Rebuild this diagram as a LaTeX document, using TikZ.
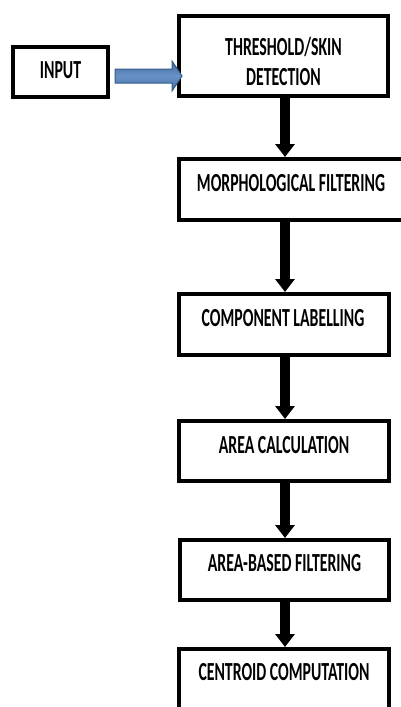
\documentclass[tikz,border=0pt]{standalone}
\usepackage{fontspec}
\setmainfont{Carlito}
\usetikzlibrary{arrows.meta}
\newcommand\vtxt[1]{\scalebox{1}[1.65]{#1}}
\begin{document}
\begin{tikzpicture}[x=1pt,y=-1pt,
  box/.style={draw=black, line width=4pt, inner sep=0pt, fill=white},
  txt/.style={font=\fontsize{15.8}{30}\selectfont\bfseries, text=black, inner sep=0pt, align=center},
  blk/.style={line width=10.5pt, draw=black, -{Triangle[width=19pt,length=13pt]}},
  bluearr/.style={draw={rgb,255:red,56;green,93;blue,138}, line width=1pt,
    top color={rgb,255:red,62;green,104;blue,160}, bottom color={rgb,255:red,62;green,104;blue,160},
    middle color={rgb,255:red,106;green,146;blue,200}}]
\useasboundingbox (0,0) rectangle (401,707);
\clip (0,0) rectangle (401,707);
\fill[white] (0,0) rectangle (401,707);

\node[box, minimum width=95pt, minimum height=50pt,
  label={[txt, yshift=2pt]center:\vtxt{INPUT}}] (in) at (60.5,72) {};
\node[box, minimum width=209pt, minimum height=80pt,
  label={[txt, yshift=-5pt]center:\vtxt{THRESHOLD/SKIN}\\\vtxt{DETECTION}}] (thr) at (283.5,56) {};
\node[box, minimum width=224pt, minimum height=61pt,
  label={[txt, yshift=6.5pt]center:\vtxt{MORPHOLOGICAL FILTERING}}] (mor) at (291,189.5) {};
\node[box, minimum width=210pt, minimum height=61pt,
  label={[txt, yshift=6.5pt, xshift=-1pt]center:\vtxt{COMPONENT LABELLING}}] (com) at (284,324.5) {};
\node[box, minimum width=210pt, minimum height=60pt,
  label={[txt, yshift=6pt]center:\vtxt{AREA CALCULATION}}] (are) at (284,451) {};
\node[box, minimum width=209pt, minimum height=60pt,
  label={[txt, yshift=7pt]center:\vtxt{AREA-BASED FILTERING}}] (abf) at (284.5,570) {};
\node[box, minimum width=210pt, minimum height=61pt,
  label={[txt, yshift=7.5pt]center:\vtxt{CENTROID COMPUTATION}}] (cen) at (284,679.5) {};

\coordinate (ax) at (285,0);
\draw[blk] (thr.south -| ax) -- (mor.north -| ax);
\draw[blk] (mor.south -| ax) -- (com.north -| ax);
\draw[blk] (com.south -| ax) -- (are.north -| ax);
\draw[blk] (are.south -| ax) -- (abf.north -| ax);
\draw[blk] (abf.south -| ax) -- (cen.north -| ax);

\coordinate (bs) at (115,76);
\coordinate (bt) at (182,76);
\path[bluearr] ([yshift=7pt]bs) -- ([xshift=-10pt,yshift=7pt]bt) -- ([xshift=-10pt,yshift=15pt]bt)
  -- (bt) -- ([xshift=-10pt,yshift=-15pt]bt) -- ([xshift=-10pt,yshift=-7pt]bt)
  -- ([yshift=-7pt]bs) -- cycle;
\end{tikzpicture}
\end{document}
